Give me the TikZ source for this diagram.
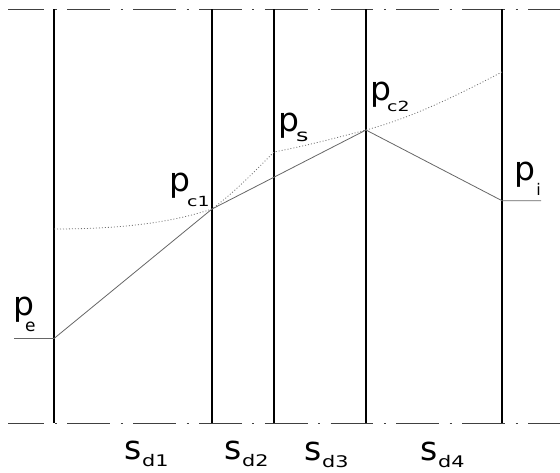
\documentclass[tikz,border=0pt]{standalone}
\usepackage{fontspec}
\setmainfont{DejaVu Sans}
\usepackage{graphicx}
\newcommand\mainsz{\fontsize{33}{33}\selectfont}
\newcommand\subsz[1]{\fontsize{#1}{#1}\selectfont}
% #1 main letter, #2 kern, #3 drop, #4 sub size, #5 hstretch, #6 sub text
\newcommand\plabel[6]{{\mainsz #1}\kern#2pt\raisebox{-#3pt}{\scalebox{#5}[1]{\subsz{#4}#6}}}
\begin{document}
\begin{tikzpicture}[x=1pt,y=-1pt,
  wall/.style={line width=1.8pt, draw=black},
  axisline/.style={line width=0.9pt, draw=black!75, dash pattern=on 42.8pt off 10.5pt on 2pt off 10.5pt, dash phase=6.7pt},
  profile/.style={line width=0.8pt, draw=black!60},
  ideal/.style={line width=0.8pt, draw=black!55, dash pattern=on 1pt off 2pt},
  lbl/.style={anchor=base west, inner sep=0pt, outer sep=0pt}]
\useasboundingbox (0,0) rectangle (560,472);
% axis lines
\coordinate (tl) at (8.3,9);
\coordinate (tr) at (560,9);
\coordinate (bl) at (8.3,423.3);
\coordinate (br) at (560,423.3);
\draw[axisline] (tl) -- (tr);
\draw[axisline] (bl) -- (br);
% walls
\foreach \n/\x in {1/54,2/212,3/274,4/366,5/502}{
  \coordinate (t\n) at (\x,9);
  \coordinate (b\n) at (\x,423.3);
  \draw[wall] (t\n) -- (b\n);
}
% points
\coordinate (pe0) at (14,338.5);
\coordinate (pe) at (54,338.5);
\coordinate (pc1) at (212,209);
\coordinate (ps) at (274,152);
\coordinate (pc2) at (366,130);
\coordinate (pi) at (502,200.7);
\coordinate (pi0) at (541,200.7);
\coordinate (cs) at (54,229);
\coordinate (ce) at (502,72);
% ideal (dotted) curve
\draw[ideal] (cs) .. controls (120,229) and (170,223) .. (pc1)
  .. controls (235,192) and (258,168) .. (ps)
  .. controls (305,146) and (336,138) .. (pc2)
  .. controls (411,118) and (456,96) .. (ce);
% actual profile
\draw[profile] (pe0) -- (pe) -- (pc1) -- (pc2) -- (pi) -- (pi0);
% labels
\node[lbl] (lpe)  at (13.7,315.2) {\plabel{p}{-9.6}{16.3}{17}{1}{e}};
\node[lbl] (lpc1) at (169.7,191.5) {\plabel{p}{-3.5}{14.5}{14}{1.35}{c1}};
\node[lbl] (lps)  at (278.7,131.5) {\plabel{p}{-3.6}{10.2}{17}{1.4}{s}};
\node[lbl] (lpc2) at (370,100.5) {\plabel{p}{-3.8}{11}{14}{1.35}{c2}};
\node[lbl] (lpi)  at (514.7,180.5) {\plabel{p}{0.8}{15.2}{16}{1}{i}};
\node[lbl] (lsd1) at (124.9,459.5) {\plabel{s}{0}{7.2}{16}{1.3}{d1}};
\node[lbl] (lsd2) at (224.9,459.5) {\plabel{s}{0}{7.2}{16}{1.3}{d2}};
\node[lbl] (lsd3) at (304.9,460) {\plabel{s}{0}{7.2}{16}{1.3}{d3}};
\node[lbl] (lsd4) at (420.9,460) {\plabel{s}{0}{7.2}{16}{1.3}{d4}};
\end{tikzpicture}
\end{document}
